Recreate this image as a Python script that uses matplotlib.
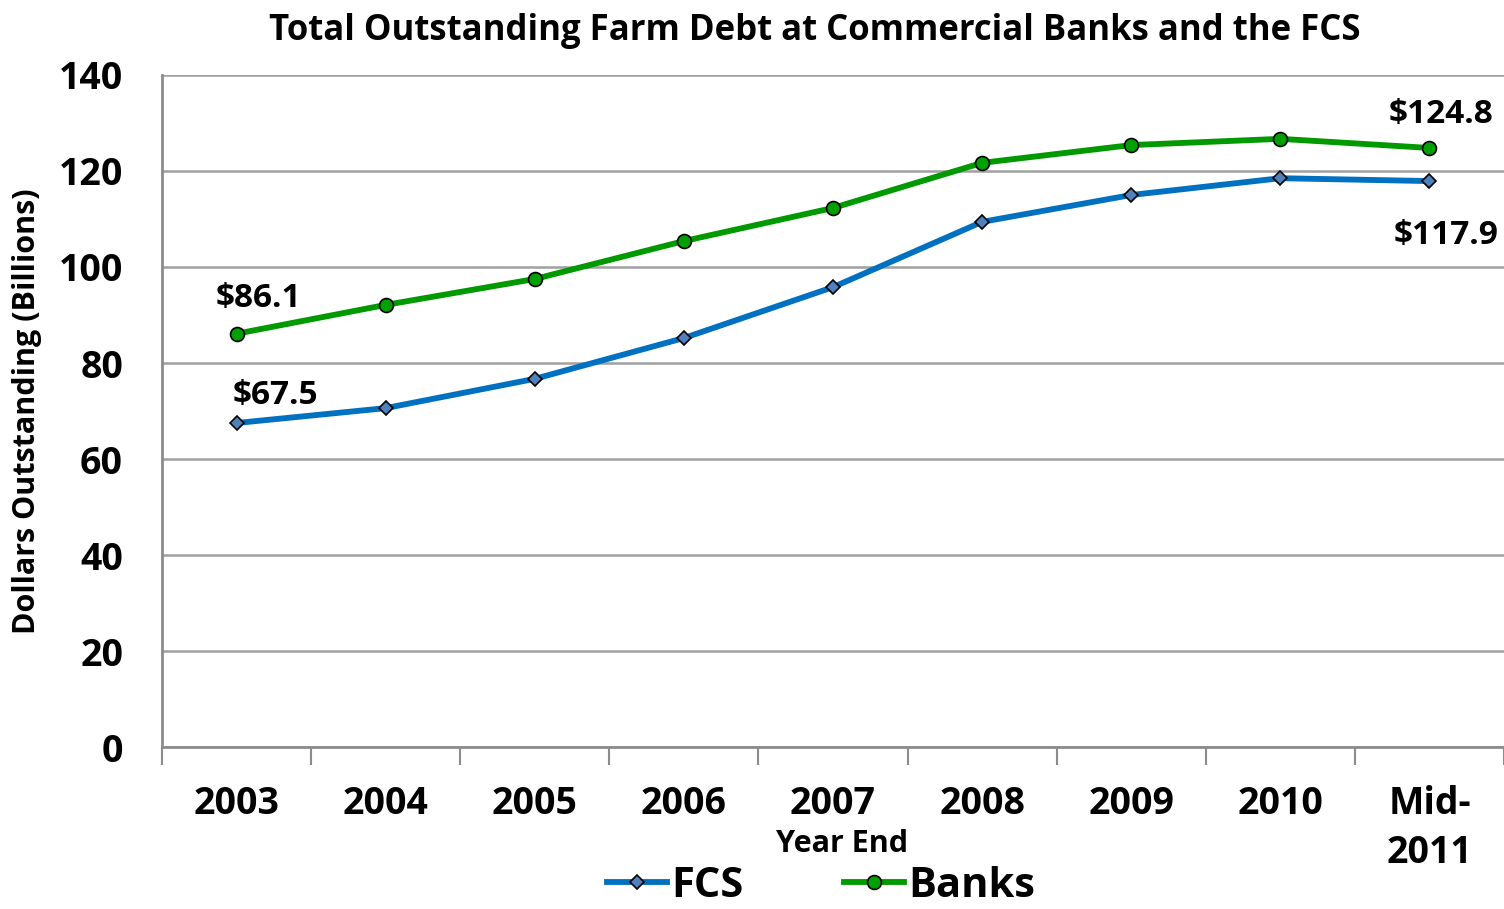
import matplotlib.pyplot as plt
import numpy as np

plt.rcParams['font.family'] = ['Open Sans', 'DejaVu Sans']
plt.rcParams['font.weight'] = 'bold'

# data (billions of dollars)
years = ['2003', '2004', '2005', '2006', '2007', '2008', '2009', '2010', 'Mid-\n2011']
fcs = [67.5, 70.6, 76.7, 85.2, 95.8, 109.4, 115.0, 118.5, 117.9]
banks = [86.1, 92.1, 97.5, 105.4, 112.3, 121.7, 125.4, 126.7, 124.8]

fig = plt.figure(figsize=(15.04, 9.09), dpi=100)
ax = fig.add_axes([0.1077, 0.1782, 0.8923, 0.7393])

x = np.arange(len(years))
ax.plot(x, fcs, color='#0070C0', lw=4.2, marker='D', ms=7.5, mfc='#4F81BD',
        mec='black', mew=1.2, label='FCS', zorder=3)
ax.plot(x, banks, color='#009900', lw=4.2, marker='o', ms=10, mfc='#00A000',
        mec='black', mew=1.2, label='Banks', zorder=3)

ax.set_xlim(-0.5, len(years) - 0.5)
ax.set_ylim(0, 140)
ax.set_yticks(range(0, 141, 20))
ax.set_xticks(x)
ax.set_xticklabels(years, fontsize=27, fontweight='bold', linespacing=1.4)
ax.tick_params(axis='x', length=0, pad=27)
ax.set_xticks(np.arange(-0.5, len(years), 1), minor=True)
ax.tick_params(axis='x', which='minor', length=13, width=1.5, color='#8C8C8C', direction='out')
ax.tick_params(axis='y', length=0, labelsize=27, pad=28)
for lab in ax.get_yticklabels():
    lab.set_fontweight('bold')

ax.grid(axis='y', color='#A0A0A0', lw=1.8)
ax.set_axisbelow(True)
for s in ['top', 'right']:
    ax.spines[s].set_visible(False)
for s in ['left', 'bottom']:
    ax.spines[s].set_color('#8C8C8C')
    ax.spines[s].set_linewidth(2)

ax.set_ylabel('Dollars Outstanding (Billions)', fontsize=22, fontweight='bold', labelpad=12)
fig.text(0.56, 0.063, 'Year End', fontsize=22, fontweight='bold', ha='center')
fig.text(0.542, 0.966, 'Total Outstanding Farm Debt at Commercial Banks and the FCS',
         fontsize=25, fontweight='bold', ha='center', va='center')

# value labels on first and last points
ax.annotate('$%.1f' % banks[0], (x[0], banks[0]), xytext=(16, 19), textcoords='offset points',
            ha='center', fontsize=24, fontweight='bold')
ax.annotate('$%.1f' % fcs[0], (x[0], fcs[0]), xytext=(28, 14), textcoords='offset points',
            ha='center', fontsize=24, fontweight='bold')
ax.annotate('$%.1f' % banks[-1], (x[-1], banks[-1]), xytext=(8, 18), textcoords='offset points',
            ha='center', fontsize=24, fontweight='bold')
ax.annotate('$%.1f' % fcs[-1], (x[-1], fcs[-1]), xytext=(12, -45), textcoords='offset points',
            ha='center', fontsize=24, fontweight='bold')

leg = fig.legend(loc='center', bbox_to_anchor=(0.546, 0.025), ncol=2, frameon=False,
                 prop={'size': 30, 'weight': 'bold'}, handlelength=1.45, handletextpad=0.1,
                 columnspacing=2.4, borderpad=0.1)

fig.savefig('out.png', dpi=100)
